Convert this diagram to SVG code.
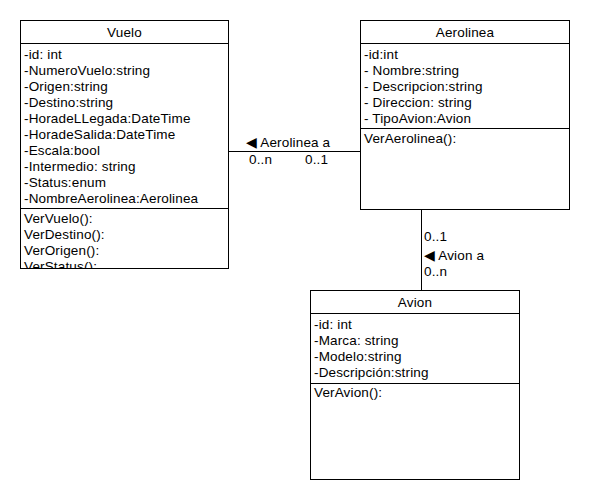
<svg xmlns="http://www.w3.org/2000/svg" width="590" height="500" viewBox="0 0 590 500">
<style>
text{font-family:"Liberation Sans",Arial,sans-serif;font-size:13.5px;letter-spacing:0.15px;fill:#000}
.box{fill:#fff;stroke:#000;stroke-width:1}
.ln{stroke:#000;stroke-width:1;fill:none}
.t{text-anchor:middle}
</style>
<defs><clipPath id="cv"><rect x="20" y="20" width="208" height="248"/></clipPath></defs>
<rect width="590" height="500" fill="#fff"/>
<g id="connectors">
<line class="ln" x1="228" y1="151.5" x2="360" y2="151.5"/>
<line class="ln" x1="421.5" y1="209" x2="421.5" y2="290"/>
<text x="246" y="147">◀ Aerolinea a</text>
<text x="249" y="164">0..n</text>
<text x="305" y="164">0..1</text>
<text x="424" y="241">0..1</text>
<text x="424" y="260">◀ Avion a</text>
<text x="424" y="276">0..n</text>
</g>
<g id="Vuelo">
<rect class="box" x="20.5" y="20.5" width="208" height="248"/>
<line class="ln" x1="20" y1="43.5" x2="228" y2="43.5"/>
<line class="ln" x1="20" y1="208.5" x2="228" y2="208.5"/>
<text class="t" x="124.5" y="37">Vuelo</text>
<g clip-path="url(#cv)">
<text x="24" y="59">-id: int</text>
<text x="24" y="75">-NumeroVuelo:string</text>
<text x="24" y="91">-Origen:string</text>
<text x="24" y="107">-Destino:string</text>
<text x="24" y="123">-HoradeLLegada:DateTime</text>
<text x="24" y="139">-HoradeSalida:DateTime</text>
<text x="24" y="155">-Escala:bool</text>
<text x="24" y="171">-Intermedio: string</text>
<text x="24" y="187">-Status:enum</text>
<text x="24" y="203">-NombreAerolinea:Aerolinea</text>
<text x="24" y="223">VerVuelo():</text>
<text x="24" y="239">VerDestino():</text>
<text x="24" y="255">VerOrigen():</text>
<text x="24" y="271">VerStatus():</text>
</g>
</g>
<g id="Aerolinea">
<rect class="box" x="360.5" y="20.5" width="209" height="189"/>
<line class="ln" x1="360" y1="43.5" x2="569" y2="43.5"/>
<line class="ln" x1="360" y1="128.5" x2="569" y2="128.5"/>
<text class="t" x="465" y="37">Aerolinea</text>
<text x="364" y="59">-id:int</text>
<text x="364" y="75">- Nombre:string</text>
<text x="364" y="91">- Descripcion:string</text>
<text x="364" y="107">- Direccion: string</text>
<text x="364" y="123">- TipoAvion:Avion</text>
<text x="364" y="143">VerAerolinea():</text>
</g>
<g id="Avion">
<rect class="box" x="310.5" y="290.5" width="209" height="189"/>
<line class="ln" x1="310" y1="313.5" x2="519" y2="313.5"/>
<line class="ln" x1="310" y1="383.5" x2="519" y2="383.5"/>
<text class="t" x="415" y="307">Avion</text>
<text x="314" y="329">-id: int</text>
<text x="314" y="345">-Marca: string</text>
<text x="314" y="361">-Modelo:string</text>
<text x="314" y="377">-Descripción:string</text>
<text x="314" y="397">VerAvion():</text>
</g>
</svg>
